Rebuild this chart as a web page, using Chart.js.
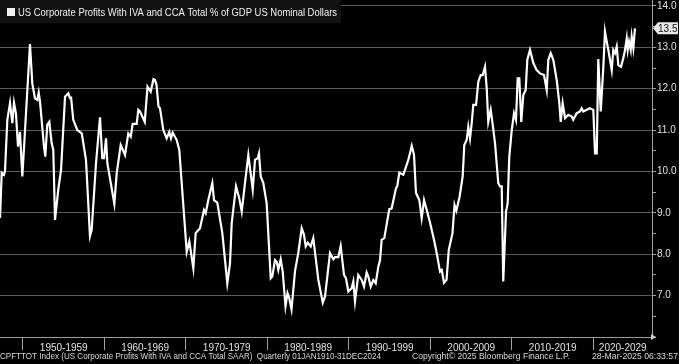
<!DOCTYPE html>
<html>
<head>
<meta charset="utf-8">
<script src="https://cdn.jsdelivr.net/npm/chart.js@4.4.1/dist/chart.umd.min.js"></script>
<style>
  html, body { margin: 0; padding: 0; background: #000; }
  canvas { display: block; }
</style>
</head>
<body>
<canvas id="chart" width="679" height="364"></canvas>
<script>
// values (quarterly, % of GDP)
const years = [
  1947.18,1947.39,1947.67,1947.79,1948.08,1948.41,1948.69,1948.90,1949.14,1949.39,1949.63,1949.92,
  1950.25,1950.86,1951.14,1951.47,1951.76,1951.93,1952.09,1952.58,1952.74,1952.98,1953.23,1953.52,1953.72,1953.93,1954.33,1954.67,1955.16,1955.56,1955.77,1955.89,1956.17,1956.67,1957.21,1957.73,1958.22,1958.43,1958.96,1959.45,1959.73,1959.94,
  1960.19,1960.35,1961.21,1961.50,1961.99,1962.52,1962.92,1963.22,1963.46,1963.95,1964.15,1964.36,1964.94,1965.28,1965.67,1966.01,1966.20,1966.38,1966.63,1966.81,1967.22,1967.63,1967.95,1968.16,1968.37,1968.86,1969.18,
  1970.09,1970.41,1970.90,1971.19,1971.72,1972.21,1972.42,1972.74,1973.23,1973.44,1973.84,1974.46,1975.07,1975.40,1975.61,1976.14,1976.54,1976.84,1977.24,1977.65,1978.19,1978.47,1978.80,1978.96,1979.17,1979.49,1979.90,
  1980.40,1980.59,1980.92,1981.13,1981.33,1981.62,1981.87,1982.21,1982.46,1982.67,1982.95,1983.38,1983.78,1984.20,1984.48,1984.69,1984.94,1985.30,1985.62,1986.24,1986.78,1987.06,1987.67,1988.08,1988.28,1988.69,1988.98,1989.39,1989.63,1989.92,
  1990.33,1990.53,1990.74,1991.14,1991.56,1991.84,1992.17,1992.37,1992.67,1992.98,1993.28,1993.60,1993.81,1994.01,1994.33,1994.95,1995.24,1995.77,1995.93,1996.17,1996.67,1997.28,1997.70,1997.98,1998.22,1998.63,1998.92,1999.21,1999.54,1999.94,
  2000.43,2000.76,2001.17,2001.38,2001.66,2001.97,2002.25,2002.70,2002.95,2003.17,2003.57,2003.95,2004.15,2004.44,2004.64,2004.85,2005.06,2005.25,2005.59,2005.87,2006.16,2006.41,2006.69,2006.90,2007.09,2007.39,2007.59,2007.92,2008.32,2008.53,2008.74,2008.93,2009.27,2009.47,2009.67,2009.97,
  2010.25,2010.49,2010.70,2010.90,2011.14,2011.39,2011.68,2011.88,2012.21,2012.62,2013.03,2013.44,2013.93,2014.26,2014.46,2014.75,2015.07,2015.49,2015.81,2015.98,2016.22,2016.51,2016.91,2017.33,2017.52,2017.94,2018.35,2018.55,2018.75,2019.17,2019.57,2019.98,
  2020.19,2020.40,2020.59,2020.89,2021.21,2021.41,2021.62,2021.82,2022.03,2022.24,2022.43,2022.64,2022.85,2023.05,2023.38,2023.66,2023.87,2024.08,2024.20,2024.36,2024.57,2024.69,2024.89,2025.09
];
const values = [
  8.88,9.97,9.92,10.0,11.25,11.66,11.17,11.66,11.4,10.6,10.96,9.88,
  11.0,13.08,12.13,11.77,11.73,11.91,11.69,10.6,10.36,11.13,11.2,10.68,10.52,8.83,9.56,10.04,11.81,11.89,11.77,11.81,11.25,11.0,10.92,10.28,8.44,8.59,10.2,11.31,10.32,10.32,
  10.8,10.2,9.22,9.96,10.64,10.4,10.92,10.84,11.15,11.15,11.49,11.45,11.2,12.05,11.93,12.23,12.21,12.1,11.57,11.53,11.0,10.8,10.96,10.8,10.94,10.76,10.52,
  8.06,8.31,7.66,8.51,8.63,9.07,8.99,9.31,9.72,9.31,9.25,8.51,7.30,7.78,8.75,9.64,9.35,9.03,9.72,10.40,9.56,10.28,10.32,10.44,9.88,9.72,9.23,
  7.42,7.46,7.86,7.82,7.62,7.88,7.58,6.74,7.06,6.94,6.67,7.6,8.03,8.63,8.47,8.19,8.28,8.19,8.39,7.38,6.83,6.98,8.03,7.88,7.93,7.93,8.20,7.50,7.42,7.10,
  7.18,7.34,6.86,7.50,7.38,7.22,7.56,7.46,7.22,7.38,7.30,7.70,7.86,8.35,8.39,9.09,9.11,9.60,9.65,9.97,9.92,10.28,10.62,10.40,9.48,9.31,8.87,9.31,9.07,8.77,
  8.35,8.03,7.58,7.62,7.31,7.38,8.11,8.51,9.19,9.05,9.39,9.88,10.64,10.76,11.08,10.80,11.17,11.61,11.61,12.17,12.33,12.33,12.53,12.01,11.20,11.49,11.20,10.68,9.72,9.64,9.64,7.34,9.03,9.23,10.36,11.0,
  11.41,11.25,12.25,12.25,11.20,11.85,11.97,12.70,12.94,12.62,12.45,12.37,12.33,11.97,12.70,12.86,12.70,12.21,11.65,11.20,11.65,11.29,11.37,11.33,11.25,11.41,11.45,11.53,11.45,11.49,11.53,11.49,
  10.44,10.44,12.72,11.45,12.53,13.38,13.14,12.94,12.70,12.45,12.94,12.86,13.02,12.57,12.53,12.74,12.94,13.22,12.94,13.14,12.94,13.26,12.98,13.46
];
const decades = [1950, 1960, 1970, 1980, 1990, 2000, 2010, 2020];
const yTicks = [6, 6.5, 7, 7.5, 8, 8.5, 9, 9.5, 10, 10.5, 11, 11.5, 12, 12.5, 13, 13.5, 14];

const seriesName = 'US Corporate Profits With IVA and CCA Total % of GDP US Nominal Dollars';
const footLeft = 'CPFTTOT Index (US Corporate Profits With IVA and CCA Total SAAR)  Quarterly 01JAN1910-31DEC2024';
const footMid = 'Copyright\u00A9 2025 Bloomberg Finance L.P.';
const footRight = '28-Mar-2025 06:33:57';

const X_MIN = 1947.18, X_MAX = 2027.18;
const FONT = '"Liberation Sans", Arial, sans-serif';

// draw text squeezed/stretched to a given width
function fitText(ctx, text, x, y, width, size, color) {
  ctx.font = size + 'px ' + FONT;
  const w = ctx.measureText(text).width;
  ctx.save();
  ctx.translate(x, y);
  ctx.scale(width / w, 1);
  ctx.fillStyle = color;
  ctx.textAlign = 'left';
  ctx.textBaseline = 'middle';
  ctx.fillText(text, 0, 0);
  ctx.restore();
}

const overlay = {
  id: 'overlay',
  afterDraw(chart) {
    const { ctx, chartArea } = chart;
    const ys = chart.scales.y;

    // arrow head at the end of the time axis
    ctx.fillStyle = '#d0d0d0';
    ctx.beginPath();
    ctx.moveTo(chartArea.right - 1, chartArea.bottom - 3);
    ctx.lineTo(chartArea.right + 4, chartArea.bottom);
    ctx.lineTo(chartArea.right - 1, chartArea.bottom + 3);
    ctx.fill();

    // legend
    ctx.fillStyle = '#121212';
    ctx.fillRect(0, 0, 341, 23);
    ctx.fillStyle = '#f2f2f2';
    ctx.fillRect(7, 8, 8, 8);
    fitText(ctx, seriesName, 18, 12.5, 319, 11, '#f0f0f0');

    // last value tag
    const last = values[values.length - 1];
    const py = ys.getPixelForValue(last);
    ctx.fillStyle = '#e8e8e8';
    ctx.beginPath();
    ctx.moveTo(chartArea.right + 1, py);
    ctx.lineTo(chartArea.right + 6, py - 6);
    ctx.lineTo(678, py - 6);
    ctx.lineTo(678, py + 6);
    ctx.lineTo(chartArea.right + 6, py + 6);
    ctx.closePath();
    ctx.fill();
    ctx.fillStyle = '#111';
    ctx.font = '10px ' + FONT;
    ctx.textBaseline = 'middle';
    ctx.textAlign = 'left';
    ctx.fillText(last.toFixed(1), 658, py + 0.5);

    // footer
    fitText(ctx, footLeft, 0, 357, 381, 9, '#d8d8d8');
    fitText(ctx, footMid, 412, 357, 158, 9, '#d8d8d8');
    fitText(ctx, footRight, 592, 357, 86, 9, '#d8d8d8');
  }
};

const bg = {
  id: 'bg',
  beforeDraw(chart) {
    chart.ctx.fillStyle = '#000';
    chart.ctx.fillRect(0, 0, chart.width, chart.height);
  }
};

const points = years.map((y, i) => ({ x: y, y: values[i] }));

new Chart(document.getElementById('chart').getContext('2d'), {
  type: 'line',
  data: {
    datasets: [{
      data: points,
      borderColor: '#ffffff',
      borderWidth: 2.2,
      pointRadius: 0,
      tension: 0
    }]
  },
  options: {
    responsive: false,
    animation: false,
    layout: { padding: 0 },
    plugins: { legend: { display: false }, tooltip: { enabled: false } },
    scales: {
      x: {
        type: 'linear',
        min: X_MIN,
        max: X_MAX,
        afterFit: s => { s.height = 27; s.paddingLeft = 0; s.paddingRight = 0; },
        afterBuildTicks: s => {
          const t = [];
          decades.forEach(d => {
            t.push({ value: d });
            t.push({ value: (d + Math.min(d + 10, X_MAX)) / 2 });
          });
          s.ticks = t;
        },
        grid: {
          drawOnChartArea: false,
          tickLength: 13,
          tickColor: c => (c.tick && c.tick.value % 10 === 0) ? '#a0a0a0' : 'transparent'
        },
        border: { color: '#9a9a9a', width: 1 },
        ticks: {
          autoSkip: false,
          maxRotation: 0,
          padding: -8,
          color: '#e0e0e0',
          font: { family: FONT, size: 10 },
          callback: v => {
            if (v % 10 === 0) return '';
            const d = Math.floor(v / 10) * 10;
            return d + '-' + (d + 9);
          }
        }
      },
      y: {
        position: 'right',
        min: 6,
        max: 14.145,
        afterFit: s => { s.width = 27; s.paddingTop = 0; s.paddingBottom = 0; },
        afterBuildTicks: s => { s.ticks = yTicks.map(v => ({ value: v })); },
        grid: {
          drawOnChartArea: true,
          color: c => (c.tick && Number.isInteger(c.tick.value) && c.tick.value > 6) ? '#5a5a5a' : 'transparent',
          tickColor: '#a0a0a0',
          tickLength: 4
        },
        border: { color: '#a0a0a0', width: 1 },
        ticks: {
          padding: 1,
          color: '#e0e0e0',
          font: { family: FONT, size: 10 },
          callback: v => (Number.isInteger(v) && v > 6) ? v.toFixed(1) : ''
        }
      }
    }
  },
  plugins: [bg, overlay]
});
</script>
</body>
</html>
